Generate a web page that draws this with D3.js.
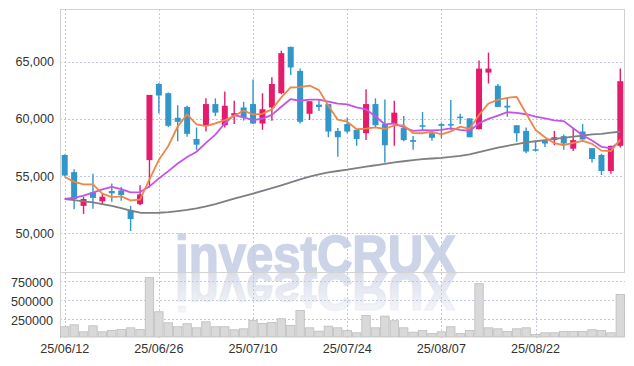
<!DOCTYPE html>
<html>
<head>
<meta charset="utf-8">
<script src="https://cdn.jsdelivr.net/npm/d3@7"></script>
<style>
  body { margin: 0; background: #fff; }
  svg text { font-family: "Liberation Sans", Arial, sans-serif; }
</style>
</head>
<body>
<svg class="chart" width="634" height="366"></svg>
<script>
// Daily candles with 5/10/60 day averages and a volume panel underneath.

PLOT_L = 60;
PLOT_R = 625;
MAIN_T = 9;
MAIN_B = 272;
VOL_B = 338;
RED = "#e41c6b";
BLUE = "#3197c9";

const dates = ["25/06/12","25/06/13","25/06/16","25/06/17","25/06/18","25/06/19","25/06/20","25/06/23","25/06/24","25/06/25",
  "25/06/26","25/06/27","25/06/30","25/07/01","25/07/02","25/07/03","25/07/04","25/07/07","25/07/08","25/07/09",
  "25/07/10","25/07/11","25/07/14","25/07/15","25/07/16","25/07/17","25/07/18","25/07/21","25/07/22","25/07/23",
  "25/07/24","25/07/25","25/07/28","25/07/29","25/07/30","25/07/31","25/08/01","25/08/04","25/08/05","25/08/06",
  "25/08/07","25/08/08","25/08/11","25/08/12","25/08/13","25/08/14","25/08/18","25/08/19","25/08/20","25/08/21",
  "25/08/22","25/08/25","25/08/26","25/08/27","25/08/28","25/08/29","25/09/01","25/09/02","25/09/03","25/09/04"];

const open = [56850,55350,52400,53600,52800,53700,53750,52050,52550,56400,
  63050,62250,60100,61050,58250,59400,61300,59450,60300,61000,
  61300,59600,61000,62250,66300,64200,60450,61250,61300,58950,
  59550,59050,58750,61300,59550,59550,59200,58150,59450,58750,
  59550,59550,60200,60050,59100,64050,62900,61150,59450,58950,
  57350,58100,58150,58500,57400,58900,57450,56850,55450,57650];

const high = [56900,55600,53200,55200,53500,54350,54050,52400,54200,62100,
  63150,62300,61200,61150,59250,61800,61800,62400,61600,61500,
  63450,62250,63650,65950,66300,64400,61550,61700,61300,59200,
  60100,59050,62600,61800,61700,61600,60250,58500,60600,58950,
  59650,61650,60450,60050,65100,65800,63050,61800,59450,59250,
  58100,58100,58950,58650,59200,59550,57450,56950,57650,64400];

const low = [55000,52100,51700,52150,52500,52750,52850,50200,52450,54000,
  60500,59300,58050,58450,57300,58900,60250,59250,59550,59850,
  59550,59050,59850,62150,63850,59600,59900,60700,58400,56700,
  58750,57650,58150,59200,56200,57650,58050,57300,58950,58100,
  58300,59050,59550,58400,59100,63100,61050,60200,58000,57000,
  57150,57550,57700,57300,57200,58200,56200,55100,55200,57500];

const close = [55050,53000,53000,53100,53200,53500,53350,51250,53400,62100,
  62050,59400,59750,58700,57750,61300,60550,61150,60500,60150,
  59600,60850,63050,65750,64500,59750,61550,61050,58900,58400,
  58900,58250,61300,59450,57700,60550,58150,58000,59350,58350,
  59400,59450,60100,58400,64400,64400,61050,61000,58750,57150,
  57250,57850,58400,57850,58150,58200,56500,55450,57650,63300];

const ma5 = [54950,54500,54280,54280,53470,53160,53230,52880,52940,54720,
  56430,57640,59340,60400,59530,59380,59610,59890,60250,60730,
  60390,60450,60830,61880,62750,62780,62920,62520,61150,59930,
  59760,59100,59150,59260,59120,59450,59430,58770,58750,58880,
  58650,58910,59330,59140,60350,61350,61670,61850,61920,60470,
  59040,58400,57880,57700,57900,58090,57820,57230,57190,58220];

const ma10 = [53000,53110,53290,53550,53840,54070,53870,53580,53610,54100,
  54800,55440,56110,56670,57130,57910,58630,59620,60330,60130,
  59890,60030,60360,61070,61740,61590,61690,61680,61520,61340,
  61270,61010,60840,60210,59530,59610,59270,58960,59010,59000,
  59050,59170,59050,58950,59620,60000,60290,60590,60530,60410,
  60200,60040,59870,59810,59190,58570,58110,57560,57450,58060];

const ma60 = [53000,52900,52800,52700,52560,52400,52200,51980,51800,51780,
  51800,51850,51950,52050,52180,52350,52560,52800,53030,53250,
  53480,53720,53960,54200,54450,54720,54950,55150,55320,55450,
  55560,55700,55840,55950,56080,56200,56300,56400,56480,56540,
  56600,56680,56780,56900,57100,57300,57500,57650,57800,57950,
  58050,58150,58250,58350,58450,58550,58650,58700,58800,58880];

const volume = [149000,175000,82000,162000,82000,100000,113000,135000,113000,800000,
  348000,202000,149000,189000,135000,215000,149000,149000,109000,122000,
  233000,193000,206000,255000,166000,366000,135000,91000,157000,135000,
  100000,69000,299000,135000,290000,229000,135000,77000,100000,60000,
  82000,149000,60000,100000,720000,135000,122000,86000,122000,135000,
  47000,69000,69000,86000,86000,86000,109000,100000,69000,578000];

const priceTicks = [50000, 55000, 60000, 65000];
const volTicks = [250000, 500000, 750000];
const dateTicks = [0, 10, 20, 30, 40, 50];

var svg = d3.select(".chart");
var idx = d3.range(dates.length);

var x = d3.scaleBand().domain(idx).range([PLOT_L, PLOT_R]);
var y = d3.scaleLinear().domain([46620, 69610]).range([MAIN_B, MAIN_T]);
var yVol = d3.scaleLinear().domain([0, 875000]).range([VOL_B, MAIN_B]);

function cx (i) { return x(i) + x.bandwidth() / 2; }

// Watermark and its reflection
function drawWatermark () {
    var defs = svg.append("defs");
    var grad = defs.append("linearGradient")
        .attr("id", "fade").attr("gradientUnits", "userSpaceOnUse")
        .attr("x1", 0).attr("y1", 273).attr("x2", 0).attr("y2", 234);
    grad.append("stop").attr("offset", 0).attr("stop-color", "#dadeec").attr("stop-opacity", 1);
    grad.append("stop").attr("offset", 1).attr("stop-color", "#eceef4").attr("stop-opacity", 0.6);

    svg.append("text")
        .attr("x", 315.5).attr("y", 273)
        .attr("text-anchor", "middle")
        .attr("font-size", 53).attr("font-weight", "bold")
        .attr("textLength", 281).attr("lengthAdjust", "spacingAndGlyphs")
        .attr("fill", "#cdd4e8").attr("stroke", "#cdd4e8").attr("stroke-width", 1.6)
        .text("investCRUX");
    svg.append("text")
        .attr("transform", "translate(0,546) scale(1,-1)")
        .attr("x", 315.5).attr("y", 273)
        .attr("text-anchor", "middle")
        .attr("font-size", 53).attr("font-weight", "bold")
        .attr("textLength", 281).attr("lengthAdjust", "spacingAndGlyphs")
        .attr("fill", "url(#fade)").attr("stroke", "url(#fade)").attr("stroke-width", 1.6)
        .text("investCRUX");
}

function drawGrid () {
    var g = svg.append("g")
        .attr("stroke", "#c3c8dc").attr("stroke-dasharray", "2,2").attr("stroke-width", 1);
    g.selectAll(".hp").data(priceTicks).join("line")
        .attr("x1", PLOT_L).attr("x2", PLOT_R)
        .attr("y1", d => Math.round(y(d)) + 0.5).attr("y2", d => Math.round(y(d)) + 0.5);
    g.selectAll(".hv").data(volTicks).join("line")
        .attr("x1", PLOT_L).attr("x2", PLOT_R)
        .attr("y1", d => Math.round(yVol(d)) + 0.5).attr("y2", d => Math.round(yVol(d)) + 0.5);
    g.selectAll(".vx").data(dateTicks).join("line")
        .attr("x1", d => Math.round(cx(d)) + 0.5).attr("x2", d => Math.round(cx(d)) + 0.5)
        .attr("y1", MAIN_T).attr("y2", VOL_B);
}

function drawFrame () {
    var g = svg.append("g").attr("stroke", "#d2d2d2").attr("stroke-width", 1);
    g.append("line").attr("x1", PLOT_L).attr("x2", PLOT_R).attr("y1", MAIN_T + 0.5).attr("y2", MAIN_T + 0.5);
    g.append("line").attr("x1", PLOT_L).attr("x2", PLOT_R).attr("y1", MAIN_B + 0.5).attr("y2", MAIN_B + 0.5);
    g.append("line").attr("x1", PLOT_L + 0.5).attr("x2", PLOT_L + 0.5).attr("y1", MAIN_T).attr("y2", VOL_B);
    g.append("line").attr("x1", PLOT_R - 0.5).attr("x2", PLOT_R - 0.5).attr("y1", MAIN_T).attr("y2", MAIN_B);
}

function drawVolume () {
    svg.append("g").selectAll("rect").data(idx).join("rect")
        .attr("x", i => x(i) + 0.5).attr("width", x.bandwidth() - 1)
        .attr("y", i => yVol(volume[i]))
        .attr("height", i => VOL_B - 1 - yVol(volume[i]))
        .attr("fill", "#d9d9d9").attr("stroke", "#bdbdbd").attr("stroke-width", 0.8);
}

function drawCandles () {
    var bw = 6;
    var g = svg.append("g");
    g.selectAll("line").data(idx).join("line")
        .attr("x1", cx).attr("x2", cx)
        .attr("y1", i => y(high[i])).attr("y2", i => y(low[i]))
        .attr("stroke", i => close[i] >= open[i] ? RED : BLUE)
        .attr("stroke-width", 1.4);
    g.selectAll("rect").data(idx).join("rect")
        .attr("x", i => cx(i) - bw / 2).attr("width", bw)
        .attr("y", i => y(Math.max(open[i], close[i])))
        .attr("height", i => Math.max(1.5, Math.abs(y(open[i]) - y(close[i]))))
        .attr("fill", i => close[i] >= open[i] ? RED : BLUE);
}

function drawAverages () {
    var lines = [[ma60, "#7f7f7f"], [ma10, "#c653e8"], [ma5, "#ef8547"]];
    lines.forEach(function (l) {
        var path = d3.line().x((d, i) => cx(i)).y(d => y(d));
        svg.append("path")
            .attr("d", path(l[0]))
            .attr("fill", "none").attr("stroke", l[1])
            .attr("stroke-width", 1.8).attr("stroke-linejoin", "round");
    });
}

function drawAxes () {
    var yAxis = svg.append("g")
        .attr("transform", "translate(" + PLOT_L + ",0)")
        .call(d3.axisLeft(y).tickValues(priceTicks).tickFormat(d3.format(",")).tickSize(0).tickPadding(6));
    var vAxis = svg.append("g")
        .attr("transform", "translate(" + PLOT_L + ",1.5)")
        .call(d3.axisLeft(yVol).tickValues(volTicks).tickFormat(d3.format("d")).tickSize(0).tickPadding(7));
    var xAxis = svg.append("g")
        .attr("transform", "translate(0," + VOL_B + ")")
        .call(d3.axisBottom(x).tickValues(dateTicks).tickFormat(i => dates[i]).tickSize(0).tickPadding(6));
    [yAxis, vAxis, xAxis].forEach(function (a) {
        a.select(".domain").remove();
        a.selectAll("text").attr("font-size", 12.6).attr("fill", "#333")
            .attr("font-family", "'Liberation Sans', Arial, sans-serif");
    });
}

drawWatermark();
drawGrid();
drawFrame();
drawVolume();
drawCandles();
drawAverages();
drawAxes();
</script>
</body>
</html>
